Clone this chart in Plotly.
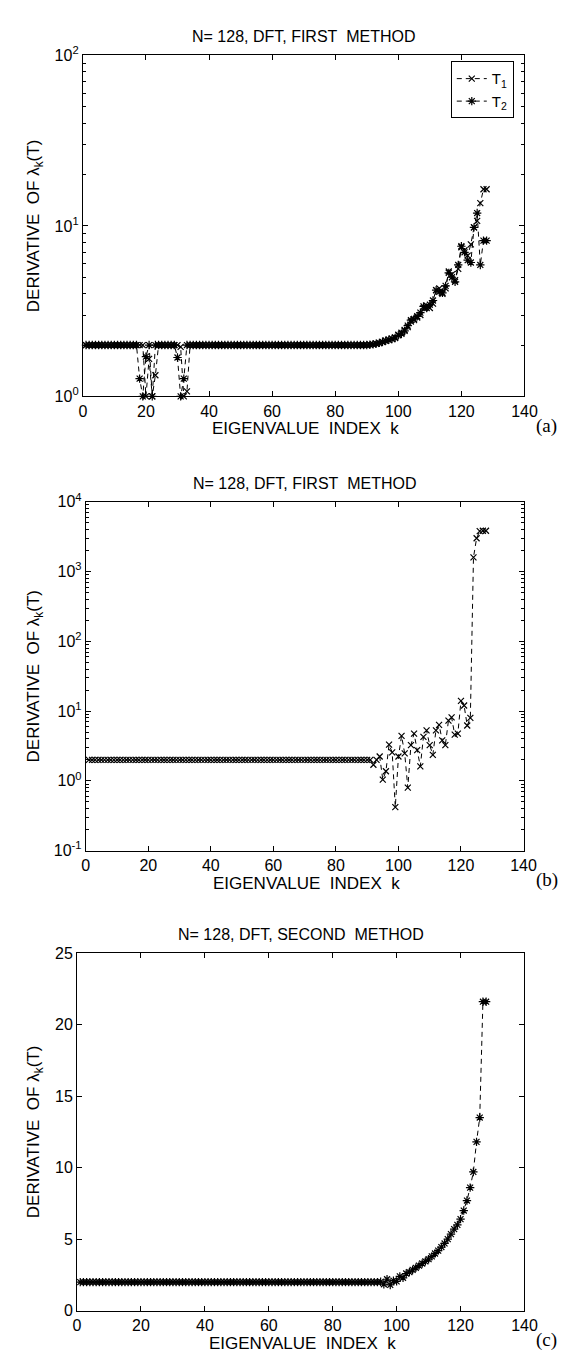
import plotly.graph_objects as go

# ---------------- data ----------------
K = list(range(1, 129))

# panel (a): N=128, DFT, first method, two series T1 (x) and T2 (*)
T1_A = [
    2.0, 2.0, 2.0, 2.0, 2.0, 2.0, 2.0, 2.0, 2.0, 2.0,
    2.0, 2.0, 2.0, 2.0, 2.0, 2.0, 2.0, 2.0, 2.0, 1.0,
    1.66, 1.0, 1.33, 2.0, 2.0, 2.0, 2.0, 2.0, 2.0, 2.0,
    1.95, 1.0, 1.07, 2.0, 2.0, 2.0, 2.0, 2.0, 2.0, 2.0,
    2.0, 2.0, 2.0, 2.0, 2.0, 2.0, 2.0, 2.0, 2.0, 2.0,
    2.0, 2.0, 2.0, 2.0, 2.0, 2.0, 2.0, 2.0, 2.0, 2.0,
    2.0, 2.0, 2.0, 2.0, 2.0, 2.0, 2.0, 2.0, 2.0, 2.0,
    2.0, 2.0, 2.0, 2.0, 2.0, 2.0, 2.0, 2.0, 2.0, 2.0,
    2.0, 2.0, 2.0, 2.0, 2.0, 2.0, 2.0, 2.0, 2.0, 2.0,
    2.01, 2.02, 2.03, 2.05, 2.08, 2.12, 2.14, 2.18, 2.22, 2.3,
    2.36, 2.45, 2.55, 2.75, 2.8, 2.9, 3.0, 3.3, 3.4, 3.3,
    3.5, 4.2, 4.3, 4.0, 4.3, 5.4, 5.2, 4.8, 5.6, 7.5,
    7.2, 6.7, 7.8, 9.8, 10.7, 13.6, 16.4, 16.4,
]
T2_A = [
    2.0, 2.0, 2.0, 2.0, 2.0, 2.0, 2.0, 2.0, 2.0, 2.0,
    2.0, 2.0, 2.0, 2.0, 2.0, 2.0, 2.0, 1.27, 1.0, 1.71,
    2.0, 1.0, 2.0, 2.0, 2.0, 2.0, 2.0, 2.0, 2.0, 1.69,
    1.0, 1.27, 2.0, 2.0, 2.0, 2.0, 2.0, 2.0, 2.0, 2.0,
    2.0, 2.0, 2.0, 2.0, 2.0, 2.0, 2.0, 2.0, 2.0, 2.0,
    2.0, 2.0, 2.0, 2.0, 2.0, 2.0, 2.0, 2.0, 2.0, 2.0,
    2.0, 2.0, 2.0, 2.0, 2.0, 2.0, 2.0, 2.0, 2.0, 2.0,
    2.0, 2.0, 2.0, 2.0, 2.0, 2.0, 2.0, 2.0, 2.0, 2.0,
    2.0, 2.0, 2.0, 2.0, 2.0, 2.0, 2.0, 2.0, 2.0, 2.0,
    2.01, 2.02, 2.04, 2.06, 2.09, 2.12, 2.15, 2.17, 2.2, 2.28,
    2.33, 2.42, 2.6, 2.8, 2.85, 2.95, 3.1, 3.37, 3.3, 3.45,
    3.65, 4.2, 4.1, 4.05, 4.45, 5.3, 5.0, 4.7, 5.9, 7.6,
    7.0, 6.3, 6.1, 9.8, 11.9, 5.9, 8.2, 8.2,
]

# panel (b): N=128, DFT, first method
D_B = [
    2.0, 2.0, 2.0, 2.0, 2.0, 2.0, 2.0, 2.0, 2.0, 2.0,
    2.0, 2.0, 2.0, 2.0, 2.0, 2.0, 2.0, 2.0, 2.0, 2.0,
    2.0, 2.0, 2.0, 2.0, 2.0, 2.0, 2.0, 2.0, 2.0, 2.0,
    2.0, 2.0, 2.0, 2.0, 2.0, 2.0, 2.0, 2.0, 2.0, 2.0,
    2.0, 2.0, 2.0, 2.0, 2.0, 2.0, 2.0, 2.0, 2.0, 2.0,
    2.0, 2.0, 2.0, 2.0, 2.0, 2.0, 2.0, 2.0, 2.0, 2.0,
    2.0, 2.0, 2.0, 2.0, 2.0, 2.0, 2.0, 2.0, 2.0, 2.0,
    2.0, 2.0, 2.0, 2.0, 2.0, 2.0, 2.0, 2.0, 2.0, 2.0,
    2.0, 2.0, 2.0, 2.0, 2.0, 2.0, 2.0, 2.0, 2.0, 2.0,
    2.0, 1.7, 2.0, 2.23, 1.04, 1.37, 3.3, 2.56, 0.42, 2.23,
    4.4, 2.48, 0.8, 3.25, 4.74, 2.76, 1.61, 4.26, 5.28, 3.25,
    2.35, 5.28, 6.35, 3.8, 3.25, 7.3, 8.1, 4.6, 4.74, 14.0,
    12.0, 6.2, 8.0, 1600.0, 3000.0, 3800.0, 3850.0, 3850.0,
]

# panel (c): N=128, DFT, second method
D_C = [
    2.0, 2.0, 2.0, 2.0, 2.0, 2.0, 2.0, 2.0, 2.0, 2.0,
    2.0, 2.0, 2.0, 2.0, 2.0, 2.0, 2.0, 2.0, 2.0, 2.0,
    2.0, 2.0, 2.0, 2.0, 2.0, 2.0, 2.0, 2.0, 2.0, 2.0,
    2.0, 2.0, 2.0, 2.0, 2.0, 2.0, 2.0, 2.0, 2.0, 2.0,
    2.0, 2.0, 2.0, 2.0, 2.0, 2.0, 2.0, 2.0, 2.0, 2.0,
    2.0, 2.0, 2.0, 2.0, 2.0, 2.0, 2.0, 2.0, 2.0, 2.0,
    2.0, 2.0, 2.0, 2.0, 2.0, 2.0, 2.0, 2.0, 2.0, 2.0,
    2.0, 2.0, 2.0, 2.0, 2.0, 2.0, 2.0, 2.0, 2.0, 2.0,
    2.0, 2.0, 2.0, 2.0, 2.0, 2.0, 2.0, 2.0, 2.0, 2.0,
    2.0, 2.0, 2.0, 2.0, 2.02, 1.85, 2.2, 1.8, 2.1, 2.05,
    2.4, 2.3, 2.6, 2.7, 2.85, 3.0, 3.15, 3.3, 3.45, 3.6,
    3.8, 4.0, 4.2, 4.45, 4.7, 5.0, 5.35, 5.7, 6.0, 6.4,
    7.0, 7.7, 8.6, 9.7, 11.8, 13.5, 21.6, 21.6,
]

TITLES = ["N= 128, DFT, FIRST\u00a0\u00a0METHOD",
          "N= 128, DFT, FIRST\u00a0\u00a0METHOD",
          "N= 128, DFT, SECOND\u00a0\u00a0METHOD"]
X_TITLE = "EIGENVALUE\u00a0\u00a0INDEX\u00a0\u00a0k"
Y_TITLE = "DERIVATIVE\u00a0\u00a0OF \u03bb<sub>k</sub>(T)"
PANEL_LABELS = ["(a)", "(b)", "(c)"]
X_TICKS = [0, 20, 40, 60, 80, 100, 120, 140]
YA_TICKS = [1, 10, 100]
YA_TEXT = ["10<sup>0</sup>", "10<sup>1</sup>", "10<sup>2</sup>"]
YB_TICKS = [0.1, 1, 10, 100, 1000, 10000]
YB_TEXT = ["10<sup>-1</sup>", "10<sup>0</sup>", "10<sup>1</sup>",
           "10<sup>2</sup>", "10<sup>3</sup>", "10<sup>4</sup>"]
YC_TICKS = [0, 5, 10, 15, 20, 25]

# ---------------- layout geometry (pixels) ----------------
W, H = 578, 1359
FONT = "Liberation Sans, Arial, Helvetica, sans-serif"
BOXES = [  # left, right, top, bottom in px
    (73, 528, 37, 383),
    (76, 527, 490, 844),
    (67, 528, 948, 1311),
]


def px_x(v):
    return v / W


def px_y(v):
    return 1 - v / H


def minor_vals(lo_exp, hi_exp):
    out = []
    for e in range(lo_exp, hi_exp):
        for m in range(2, 10):
            out.append(m * 10 ** e)
    return out


DASH = "5px,4px"
fig = go.Figure()

# panel a
fig.add_trace(go.Scatter(
    x=K, y=T1_A, mode="lines+markers", name="T<sub>1</sub>",
    line=dict(color="black", width=1, dash=DASH),
    marker=dict(symbol="x-thin-open", size=6, color="black",
                line=dict(color="black", width=1.2)),
    cliponaxis=False, xaxis="x", yaxis="y"))
fig.add_trace(go.Scatter(
    x=K, y=T2_A, mode="lines+markers", name="T<sub>2</sub>",
    line=dict(color="black", width=1, dash=DASH),
    marker=dict(symbol="asterisk-open", size=7, color="black",
                line=dict(color="black", width=1.2)),
    cliponaxis=False, xaxis="x", yaxis="y"))
# panel b
fig.add_trace(go.Scatter(
    x=K, y=D_B, mode="lines+markers", showlegend=False,
    line=dict(color="black", width=1, dash=DASH),
    marker=dict(symbol="x-thin-open", size=6, color="black",
                line=dict(color="black", width=1.2)),
    xaxis="x2", yaxis="y2"))
# panel c
fig.add_trace(go.Scatter(
    x=K, y=D_C, mode="lines+markers", showlegend=False,
    line=dict(color="black", width=1, dash=DASH),
    marker=dict(symbol="asterisk-open", size=7, color="black",
                line=dict(color="black", width=1.2)),
    xaxis="x3", yaxis="y3"))

axis_common = dict(
    showline=True, linecolor="black", linewidth=1, mirror="ticks",
    ticks="inside", ticklen=5, tickwidth=1, tickcolor="black",
    showgrid=False, zeroline=False,
    tickfont=dict(family=FONT, size=16, color="black"),
)

layout = dict(
    width=W, height=H, margin=dict(l=0, r=0, t=0, b=0),
    paper_bgcolor="white", plot_bgcolor="white",
    font=dict(family=FONT, size=16, color="black"),
    showlegend=True,
    legend=dict(x=px_x(517), y=px_y(43), xanchor="right", yanchor="top",
                bgcolor="white", bordercolor="black", borderwidth=1,
                font=dict(family=FONT, size=15, color="black"),
                tracegroupgap=0, itemwidth=30),
)

names = ["", "2", "3"]
for i, (l, r, t, b) in enumerate(BOXES):
    xa = "xaxis" + names[i]
    ya = "yaxis" + names[i]
    xa_ref = "x" + names[i]
    ya_ref = "y" + names[i]
    layout[xa] = dict(axis_common, domain=[px_x(l), px_x(r)], anchor=ya_ref,
                      range=[0, 140], tickvals=X_TICKS)
    if i == 0:
        layout[ya] = dict(axis_common, domain=[px_y(b), px_y(t)], anchor=xa_ref,
                          type="log", range=[0, 2], tickvals=YA_TICKS, ticktext=YA_TEXT,
                          minor=dict(ticks="inside", ticklen=3, tickcolor="black",
                                     tickvals=minor_vals(0, 2)))
    elif i == 1:
        layout[ya] = dict(axis_common, domain=[px_y(b), px_y(t)], anchor=xa_ref,
                          type="log", range=[-1, 4], tickvals=YB_TICKS, ticktext=YB_TEXT,
                          minor=dict(ticks="inside", ticklen=3, tickcolor="black",
                                     tickvals=minor_vals(-1, 4)))
    else:
        layout[ya] = dict(axis_common, domain=[px_y(b), px_y(t)], anchor=xa_ref,
                          range=[0, 25], tickvals=YC_TICKS)

annotations = []
for i, (l, r, t, b) in enumerate(BOXES):
    cx = (l + r) / 2
    annotations.append(dict(
        text=TITLES[i], xref="paper", yref="paper", x=px_x(cx), y=px_y(t - 19),
        xanchor="center", yanchor="middle", showarrow=False,
        font=dict(family=FONT, size=16, color="black")))
    annotations.append(dict(
        text=X_TITLE, xref="paper", yref="paper", x=px_x(cx + 2), y=px_y(b + 33),
        xanchor="center", yanchor="middle", showarrow=False,
        font=dict(family=FONT, size=17, color="black")))
    annotations.append(dict(
        text=Y_TITLE, xref="paper", yref="paper", x=px_x(24), y=px_y((t + b) / 2),
        xanchor="center", yanchor="middle", textangle=-90, showarrow=False,
        font=dict(family=FONT, size=17, color="black")))
    annotations.append(dict(
        text=PANEL_LABELS[i], xref="paper", yref="paper", x=px_x(551), y=px_y(b + 30),
        xanchor="center", yanchor="middle", showarrow=False,
        font=dict(family="Liberation Serif, Times New Roman, serif", size=19, color="black")))

layout["annotations"] = annotations
fig.update_layout(**layout)
fig.write_html("out.html")
